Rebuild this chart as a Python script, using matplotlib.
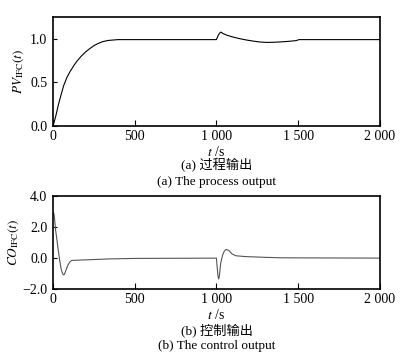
import numpy as np
import matplotlib.pyplot as plt

plt.rcParams['font.family'] = ['Liberation Serif', 'Noto Sans CJK SC']
plt.rcParams['mathtext.fontset'] = 'stix'

# process output
t_pv = [0, 5, 18, 34, 50, 65, 85, 105, 132, 150, 173, 197, 224, 250, 275, 305, 336,
        397, 450, 1000, 1010, 1020, 1028, 1040, 1064, 1100, 1144, 1185, 1225, 1265,
        1305, 1345, 1386, 1440, 1486, 1506, 2000]
pv = [0.0, 0.03, 0.12, 0.25, 0.36, 0.46, 0.555, 0.625, 0.705, 0.75, 0.80, 0.845,
      0.885, 0.92, 0.945, 0.967, 0.98, 0.99, 0.99, 0.99, 1.035, 1.065, 1.076, 1.06,
      1.04, 1.02, 1.0, 0.985, 0.973, 0.963, 0.958, 0.959, 0.963, 0.97, 0.978, 0.99,
      0.99]

# control output
t_co = [0, 4, 8, 16, 24, 32, 40, 49, 56, 63, 70, 77, 85, 93, 103, 114, 180, 350,
        500, 1000, 1003, 1006, 1010, 1014, 1018, 1026, 1038, 1048, 1059, 1075,
        1096, 1120, 1177, 1300, 1400, 2000]
co = [2.85, 2.92, 2.75, 1.83, 1.2, 0.54, -0.05, -0.65, -0.92, -1.08, -1.05, -0.86,
      -0.62, -0.42, -0.25, -0.15, -0.12, -0.05, -0.02, 0.0, -0.4, -0.75, -1.2,
      -1.35, -1.15, -0.33, 0.2, 0.45, 0.56, 0.5, 0.27, 0.15, 0.1, 0.05, 0.02, 0.0]

xticks = [0, 500, 1000, 1500, 2000]
xlabels = ['0', '500', '1 000', '1 500', '2 000']

fig = plt.figure(figsize=(4.17, 3.6), dpi=100)
ax1 = fig.add_axes([0.127, 0.65, 0.784, 0.303])
ax2 = fig.add_axes([0.127, 0.197, 0.784, 0.258])

ax1.plot(t_pv, pv, color='black', lw=0.8)
ax1.set_ylim(0, 1.25)
ax1.set_yticks([0, 0.5, 1.0])
ax1.set_yticklabels(['0.0', '0.5', '1.0'])
ax1.set_ylabel(r'$PV_{\mathrm{IFC}}(t)$', fontsize=9.5, labelpad=3)

ax2.plot(t_co, co, color='#555555', lw=0.8)
ax2.set_ylim(-2, 4)
ax2.set_yticks([-2, 0, 2, 4])
ax2.set_yticklabels(['\u22122.0', '0.0', '2.0', '4.0'])
ax2.set_ylabel(r'$CO_{\mathrm{IFC}}(t)$', fontsize=9.5, labelpad=1)

for ax in (ax1, ax2):
    ax.set_xlim(0, 2000)
    ax.set_xticks(xticks)
    ax.set_xticklabels(xlabels)
    ax.tick_params(axis='x', direction='in', length=4, width=0.8, labelsize=10, pad=3)
    ax.tick_params(axis='y', direction='in', length=3, width=0.8, labelsize=10, pad=4)
    for s in ax.spines.values():
        s.set_linewidth(1.2)
    ax.set_xlabel(r'$t$ /s', fontsize=10, labelpad=1)

fig.text(0.52, 0.542, '(a) 过程输出', ha='center', va='center', fontsize=9.5)
fig.text(0.52, 0.494, '(a) The process output', ha='center', va='center', fontsize=9.5)
fig.text(0.52, 0.083, '(b) 控制输出', ha='center', va='center', fontsize=9.5)
fig.text(0.52, 0.039, '(b) The control output', ha='center', va='center', fontsize=9.5)

fig.savefig('out.png', dpi=100)
